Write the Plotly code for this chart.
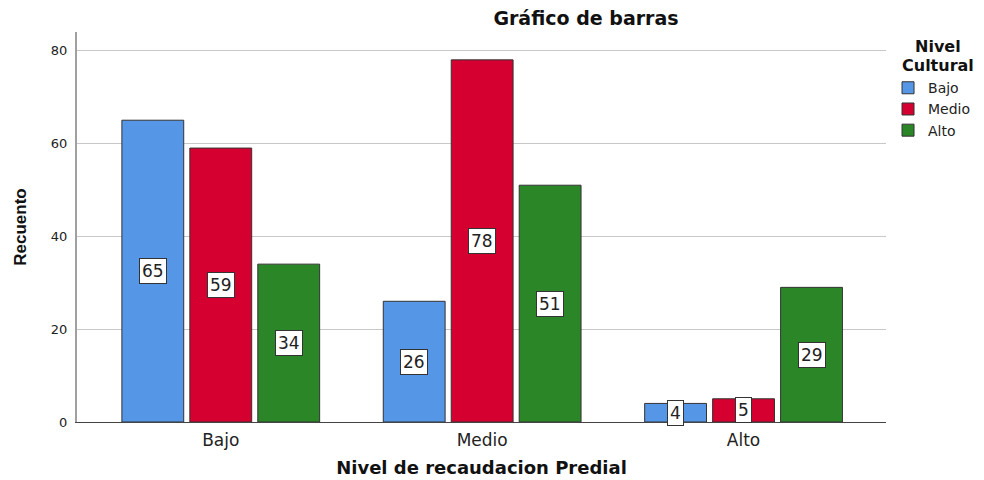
import plotly.graph_objects as go

categories = ["Bajo", "Medio", "Alto"]
series_names = ["Bajo", "Medio", "Alto"]
values_bajo = [65, 26, 4]
values_medio = [59, 78, 5]
values_alto = [34, 51, 29]
series_values = [values_bajo, values_medio, values_alto]
colors = ["#5596E6", "#D5002F", "#2B8628"]
legend_title_lines = ["Nivel", "Cultural"]

FONT = "DejaVu Sans, Verdana, sans-serif"
bargap = 0.22
n = len(series_names)
slot = (1 - bargap) / n

fig = go.Figure()
for j, (name, vals) in enumerate(zip(series_names, series_values)):
    fig.add_trace(go.Bar(
        x=list(range(len(categories))), y=vals, name=name,
        marker=dict(color=colors[j], line=dict(color="#333333", width=1)),
    ))
    for i, v in enumerate(vals):
        fig.add_annotation(
            x=i + (j - (n - 1) / 2) * slot, y=v / 2, xref="x", yref="y",
            text=str(v), showarrow=False,
            font=dict(family=FONT, size=17, color="#222"),
            bgcolor="white", bordercolor="#333333", borderwidth=1, borderpad=2,
        )

# legend title drawn as two text lines (tighter spacing than the legend title allows)
for k, line in enumerate(legend_title_lines):
    fig.add_annotation(
        x=1.0645, y=0.962 - k * 0.047, xref="paper", yref="paper",
        xanchor="center", yanchor="middle", showarrow=False,
        text=f"<b>{line}</b>", font=dict(family=FONT, size=16, color="#111"),
    )

# page body adds an 8px offset; figure is sized to fit the window
W, H, OFF = 976, 472, 8
fig.update_layout(
    width=W, height=H,
    margin=dict(l=77 - OFF, r=98, t=32 - OFF, b=58, autoexpand=False),
    paper_bgcolor="white", plot_bgcolor="white",
    barmode="group", bargap=bargap, bargroupgap=0.09,
    font=dict(family=FONT, color="#222"),
    title=dict(text="<b>Gráfico de barras</b>", x=(586 - OFF) / W, xanchor="center",
               y=1 - (18 - OFF) / H, yanchor="middle", font=dict(size=19, color="#111")),
    xaxis=dict(
        tickmode="array", tickvals=list(range(len(categories))), ticktext=categories,
        range=[-0.55, 2.545], showgrid=False, zeroline=False,
        showline=True, linecolor="#444", linewidth=1,
        ticks="outside", ticklen=3, tickcolor="rgba(0,0,0,0)",
        tickfont=dict(size=17, color="#222"),
        title=dict(text="<b>Nivel de recaudacion Predial</b>", font=dict(size=18, color="#111"), standoff=11),
    ),
    yaxis=dict(
        range=[0, 84], tickvals=[0, 20, 40, 60, 80], showgrid=True, gridcolor="#c8c8c8",
        zeroline=False, showline=True, linecolor="#a0a0a0", linewidth=2,
        ticks="outside", ticklen=5, tickcolor="rgba(0,0,0,0)",
        tickfont=dict(size=13, color="#222"),
        title=dict(text="<b>Recuento</b>", font=dict(size=17, color="#111", family="Liberation Sans, Arial"), standoff=20),
    ),
    legend=dict(
        x=1.0025, y=0.897, xanchor="left", yanchor="top",
        font=dict(size=14, color="#222"), itemwidth=30, tracegroupgap=0,
        bgcolor="rgba(0,0,0,0)",
    ),
)

fig.write_html("out.html")
